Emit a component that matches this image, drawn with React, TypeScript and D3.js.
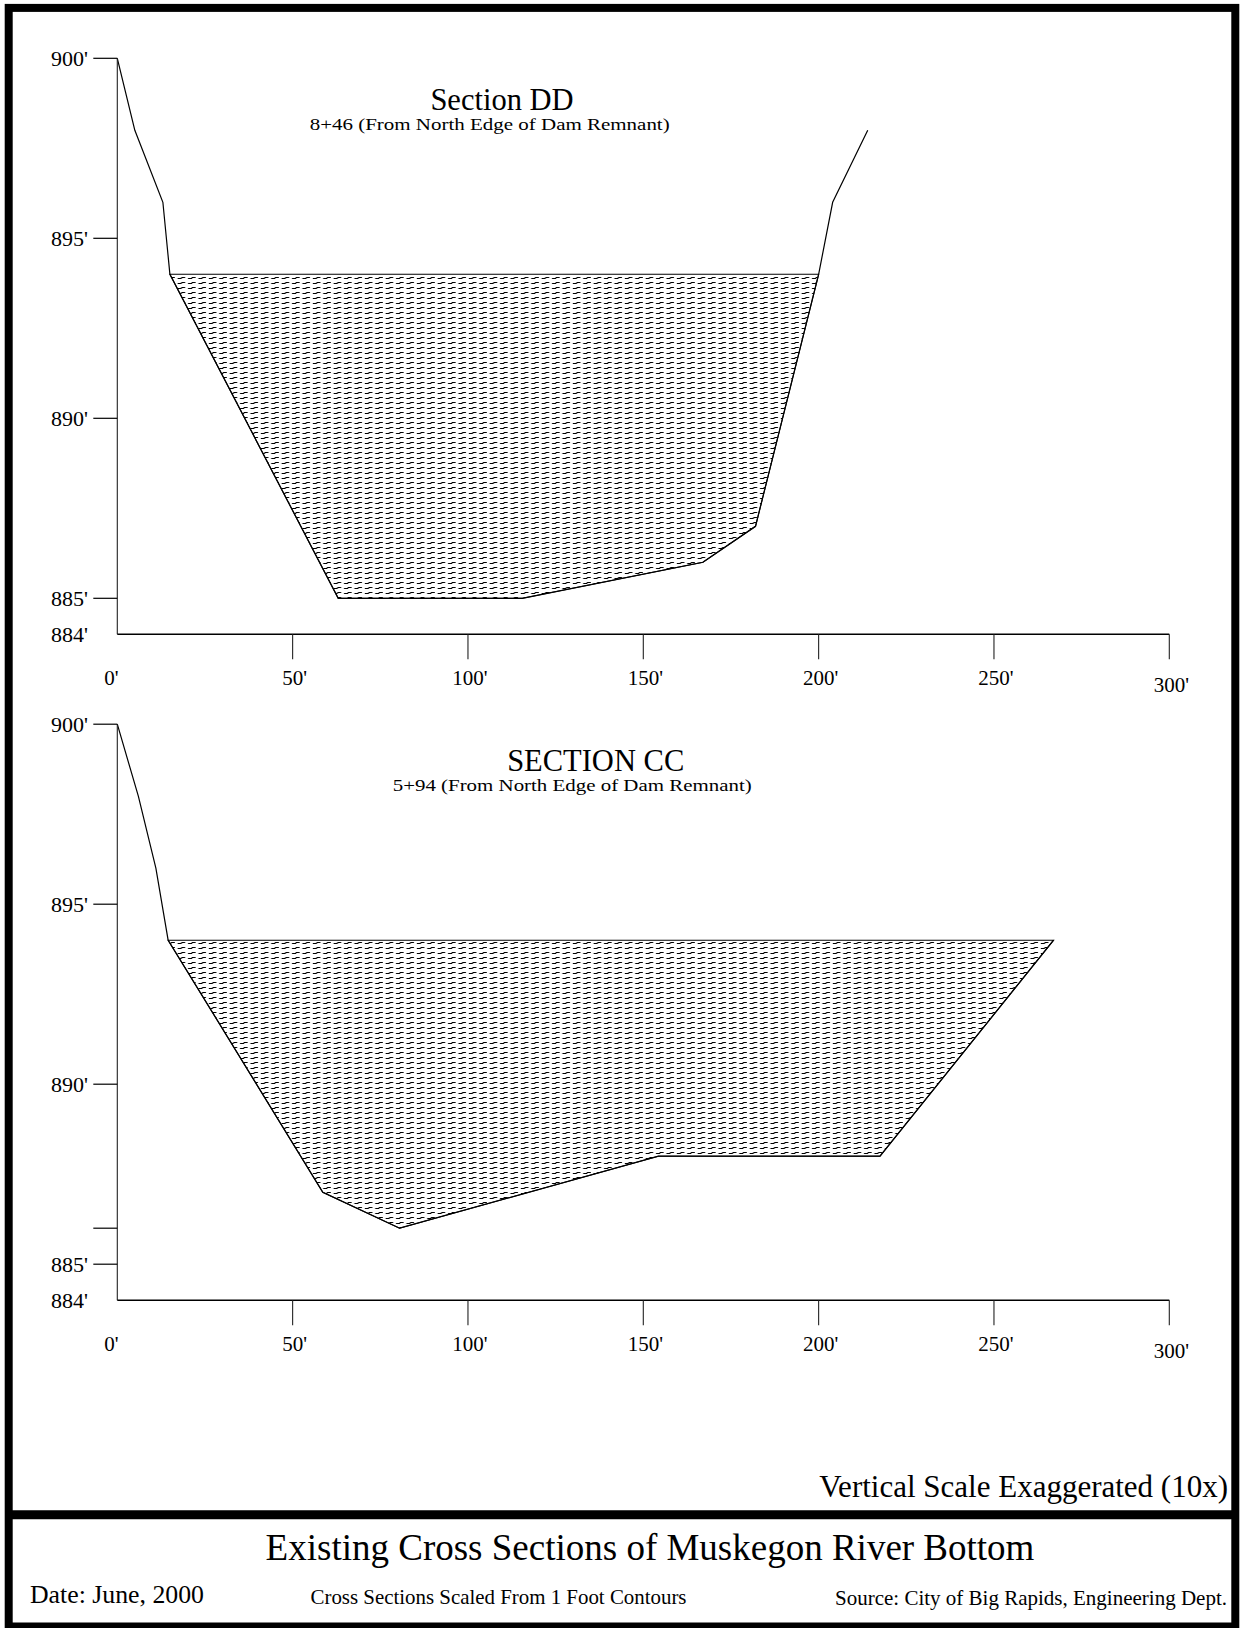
import React from "react";
import * as d3 from "d3";

// chainage along the section (ft) and elevation (ft)
const ddGround: [number, number][] = [
  [0, 900], [5, 898], [13, 896], [15, 894], [63, 885], [115.5, 885],
  [167, 886], [182, 887], [200, 894], [204, 896], [214, 898],
];
const ccGround: [number, number][] = [
  [0, 900], [6, 898], [11, 896], [14.5, 894], [58.6, 887], [80.5, 886],
  [154.3, 888], [217.5, 888], [267, 894],
];
const waterLevel = 894;

const xTicks = [50, 100, 150, 200, 250, 300];
const xLabels = [0, 50, 100, 150, 200, 250, 300];
const yLabels = [900, 895, 890, 885, 884];
const ddYTicks = [900, 895, 890, 885];
const ccYTicks = [900, 895, 890, 886, 885];

const ddTitle = "Section DD";
const ddSubtitle = "8+46 (From North Edge of Dam Remnant)";
const ccTitle = "SECTION CC";
const ccSubtitle = "5+94 (From North Edge of Dam Remnant)";

const FONT = "'Liberation Serif', 'Times New Roman', serif";
const W = 1241;
const H = 1628;

const x = d3.scaleLinear().domain([0, 300]).range([117.3, 1169.3]);

const sections = [
  {
    key: "dd", ground: ddGround, yTicks: ddYTicks, top: 58.3,
    title: ddTitle, subtitle: ddSubtitle,
    titleX: 502, titleY: 110, subX: 489.7, subY: 130, subLen: 360,
  },
  {
    key: "cc", ground: ccGround, yTicks: ccYTicks, top: 724.2,
    title: ccTitle, subtitle: ccSubtitle,
    titleX: 595.7, titleY: 771, subX: 572.2, subY: 791, subLen: 359,
  },
];

const Section = ({ s }: { s: (typeof sections)[number] }) => {
  const y = d3.scaleLinear().domain([884, 900]).range([s.top + 576, s.top]);
  const line = d3
    .line<[number, number]>()
    .x((d) => x(d[0]))
    .y((d) => y(d[1]));
  const water = s.ground.filter((d) => d[1] <= waterLevel);
  const y0 = y(884);

  return (
    <g>
      {/* water body */}
      <path
        d={line(water) + "Z"}
        fill="url(#hatch)"
        stroke="#000"
        strokeWidth={1.1}
      />
      {/* ground profile */}
      <path d={line(s.ground) || ""} fill="none" stroke="#000" strokeWidth={1.2} />

      {/* y axis */}
      <line x1={x(0)} x2={x(0)} y1={y(900)} y2={y0} stroke="#222" strokeWidth={1.1} />
      {s.yTicks.map((t) => (
        <line key={t} x1={x(0) - 24} x2={x(0)} y1={y(t)} y2={y(t)} stroke="#000" strokeWidth={1.2} />
      ))}
      {yLabels.map((t) => (
        <text key={t} x={88} y={y(t) + 7.5} textAnchor="end" fontSize={22} fontFamily={FONT}>
          {t + "'"}
        </text>
      ))}

      {/* x axis */}
      <line x1={x(0)} x2={x(300)} y1={y0} y2={y0} stroke="#000" strokeWidth={1.5} />
      {xTicks.map((t) => (
        <line key={t} x1={x(t)} x2={x(t)} y1={y0} y2={y0 + 25} stroke="#222" strokeWidth={1.1} />
      ))}
      {xLabels.map((t) => (
        <text
          key={t}
          x={t === 0 ? x(0) - 6 : x(t) + 2}
          y={y0 + (t === 300 ? 58 : 51)}
          textAnchor="middle"
          fontSize={21}
          fontFamily={FONT}
        >
          {t + "'"}
        </text>
      ))}

      {/* titles */}
      <text x={s.titleX} y={s.titleY} textAnchor="middle" fontSize={30.5} fontFamily={FONT}>
        {s.title}
      </text>
      <text
        x={s.subX}
        y={s.subY}
        textAnchor="middle"
        fontSize={16.5}
        fontFamily={FONT}
        textLength={s.subLen}
        lengthAdjust="spacingAndGlyphs"
      >
        {s.subtitle}
      </text>
    </g>
  );
};

export default function App() {
  return (
    <div style={{ position: "absolute", left: 0, top: 0 }}>
      <svg width={W} height={H} style={{ display: "block", background: "#fff" }}>
        <defs>
          <pattern id="hatch" patternUnits="userSpaceOnUse" width={10.4} height={5}>
            <path d="M0.8,3.5 h3.6 l0.6,-1 h3.4" fill="none" stroke="#000" strokeWidth={1.15} />
          </pattern>
        </defs>
        <rect width={W} height={H} fill="#fff" />

        {sections.map((s) => (
          <Section key={s.key} s={s} />
        ))}

        <text x={1228} y={1497} textAnchor="end" fontSize={31} fontFamily={FONT}>
          Vertical Scale Exaggerated (10x)
        </text>

        {/* frame */}
        <rect x={8.7} y={7.9} width={1226.6} height={1618.6} fill="none" stroke="#000" strokeWidth={8} />
        <line x1={8.7} x2={1235.3} y1={1514.7} y2={1514.7} stroke="#000" strokeWidth={9} />

        {/* footer */}
        <text x={650} y={1560} textAnchor="middle" fontSize={37} fontFamily={FONT}>
          Existing Cross Sections of Muskegon River Bottom
        </text>
        <text x={30} y={1603} fontSize={25} fontFamily={FONT} textLength={174} lengthAdjust="spacingAndGlyphs">
          Date: June, 2000
        </text>
        <text x={310.5} y={1604} fontSize={20.6} fontFamily={FONT} textLength={376} lengthAdjust="spacingAndGlyphs">
          Cross Sections Scaled From 1 Foot Contours
        </text>
        <text x={1227} y={1605} textAnchor="end" fontSize={21} fontFamily={FONT}>
          Source: City of Big Rapids, Engineering Dept.
        </text>
      </svg>
    </div>
  );
}
